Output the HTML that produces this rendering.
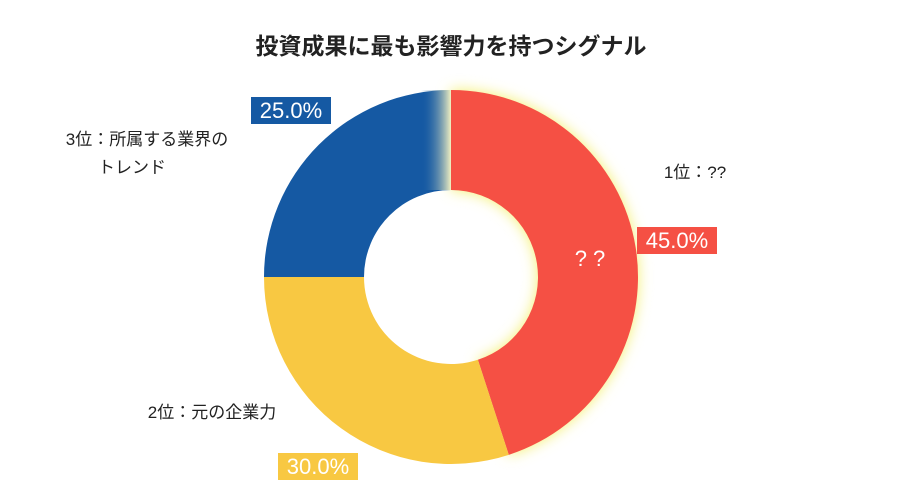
<!DOCTYPE html>
<html><head><meta charset="utf-8"><style>
body{margin:0;background:#fff;width:901px;height:501px;overflow:hidden}
svg{display:block}
text{font-family:"Liberation Sans","Noto Sans CJK JP",sans-serif}
</style></head><body>
<svg id="c" width="901" height="501">
<defs>
<filter id="glow" x="-30%" y="-30%" width="160%" height="160%"><feGaussianBlur stdDeviation="7"/></filter>
<linearGradient id="fade" x1="0" x2="1" y1="0" y2="0"><stop offset="0" stop-color="#1559A3" stop-opacity="0"/><stop offset="1" stop-color="#f2f0c0" stop-opacity="1"/></linearGradient>
</defs>
<text x="451" y="54" text-anchor="middle" font-size="23" font-weight="bold" fill="#222">投資成果に最も影響力を持つシグナル</text>
<g id="slices"></g>
<g id="labels"></g>
</svg>
<script>
const categories=["1位：??","2位：元の企業力","3位：所属する業界の|トレンド"];
const values=[45,30,25];
const valueLabels=["45.0%","30.0%","25.0%"];
const colors=["#F55044","#F8C842","#1559A3"];
const cx=451,cy=277,R=187,r=87;
const NS="http://www.w3.org/2000/svg";
const sg=document.getElementById('slices'),lg=document.getElementById('labels');
function pt(a,rad){return [cx+rad*Math.sin(a),cy-rad*Math.cos(a)];}
function arc(a0,a1){const l=(a1-a0)>Math.PI?1:0;const p0=pt(a0,R),p1=pt(a1,R),q1=pt(a1,r),q0=pt(a0,r);
return `M${p0}A${R},${R} 0 ${l} 1 ${p1}L${q1}A${r},${r} 0 ${l} 0 ${q0}Z`;}
const total=values.reduce((a,b)=>a+b,0);
let a=0;const angs=[];
values.forEach((v,i)=>{const a1=a+v/total*2*Math.PI;angs.push([a,a1]);a=a1;});
// glow for top slice
const g=document.createElementNS(NS,'path');g.setAttribute('d',arc(angs[0][0],angs[0][1]));g.setAttribute('fill','#f4f070');g.setAttribute('filter','url(#glow)');


sg.appendChild(g);
values.forEach((v,i)=>{const p=document.createElementNS(NS,'path');p.setAttribute('d',arc(angs[i][0],angs[i][1]));p.setAttribute('fill',colors[i]);


sg.appendChild(p);});
// fade on blue edge near top
const fp=pt(angs[2][1]-0.15,R);
const fr=document.createElementNS(NS,'rect');fr.setAttribute('x',cx-30);fr.setAttribute('y',cy-R);fr.setAttribute('width',30);fr.setAttribute('height',R-r);fr.setAttribute('fill','url(#fade)');


sg.appendChild(fr);
// value boxes
const boxPos=[[677,240],[318,466],[291,110]];
valueLabels.forEach((t,i)=>{const [x,y]=boxPos[i];
const b=document.createElementNS(NS,'rect');b.setAttribute('x',x-40);b.setAttribute('y',y-13);b.setAttribute('width',80);b.setAttribute('height',27);b.setAttribute('fill',colors[i]);


lg.appendChild(b);
const tx=document.createElementNS(NS,'text');tx.setAttribute('x',x);tx.setAttribute('y',y+8);tx.setAttribute('text-anchor','middle');tx.setAttribute('font-size','22');tx.setAttribute('fill','#fff');tx.textContent=t;


lg.appendChild(tx);});
const catPos=[[695,178],[212,418],[147,145]];
categories.forEach((c,i)=>{const lines=c.split('|');lines.forEach((ln,j)=>{
const tx=document.createElementNS(NS,'text');tx.setAttribute('x',catPos[i][0]-(j?15:0));tx.setAttribute('y',catPos[i][1]+j*28);tx.setAttribute('text-anchor','middle');tx.setAttribute('font-size','17');tx.setAttribute('fill','#222');tx.textContent=ln;


lg.appendChild(tx);});});
const q=document.createElementNS(NS,'text');q.setAttribute('x',590);q.setAttribute('y',266);q.setAttribute('text-anchor','middle');q.setAttribute('font-size','22');q.setAttribute('fill','#fff');q.textContent='? ?';


lg.appendChild(q);
</script>
</body></html>
